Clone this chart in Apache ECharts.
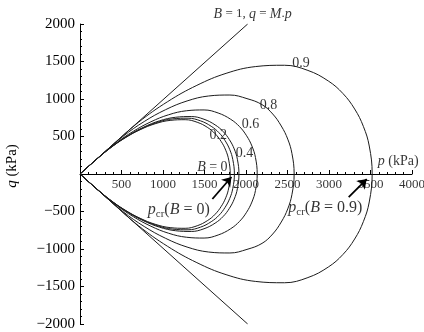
<!DOCTYPE html>
<html><head><meta charset="utf-8">
<script src="https://cdn.jsdelivr.net/npm/echarts/dist/echarts.min.js"></script>
<style>html,body{margin:0;padding:0;background:#fff}#c{width:424px;height:332px}</style>
</head><body><div id="c"></div>
<script>
// ---- data (upper half of each yield curve, [p, q] in kPa) ----
const bLabels = ['0', '0.2', '0.4', '0.6', '0.8', '0.9'];
const curveB00 = [[0,0],[181,179],[362,344],[543,481],[724,590],[905,670],[1086,715],[1267,724],[1412,690],[1539,619],[1629,536],[1701,433],[1756,317],[1792,186],[1810,0]];
const curveB02 = [[0,0],[186,184],[372,353],[558,495],[744,606],[930,688],[1116,735],[1302,744],[1451,709],[1581,636],[1674,551],[1748,445],[1804,326],[1841,192],[1860,0]];
const curveB04 = [[0,0],[192,190],[383,364],[575,509],[766,624],[958,709],[1149,756],[1341,766],[1494,730],[1628,655],[1724,567],[1800,458],[1858,335],[1896,197],[1915,0]];
const curveB06 = [[0,0],[214,211],[427,406],[641,568],[854,696],[1068,790],[1281,843],[1495,854],[1665,813],[1815,730],[1922,632],[2007,510],[2071,374],[2114,220],[2135,0]];
const curveB08 = [[0,0],[258,255],[516,500],[774,700],[1032,858],[1290,974],[1548,1040],[1806,1053],[2012,1005],[2193,925],[2322,800],[2425,640],[2503,465],[2554,271],[2580,0]];
const curveB09 = [[0,0],[352,348],[704,689],[1056,965],[1408,1182],[1760,1342],[2112,1432],[2464,1450],[2746,1381],[2992,1240],[3168,1073],[3309,867],[3414,635],[3485,373],[3520,0]];
const lineB1 = [[2020,2000],[0,0],[2020,-2000]];   // B = 1, q = M.p
const xTickValues = [500,1000,1500,2000,2500,3000,3500,4000];
const yTickValues = [-2000,-1500,-1000,-500,500,1000,1500,2000];

// annotations: text and anchor in data coordinates
const annTexts = ['{i|B} = 1, {i|q} = {i|M}.{i|p}', '0.9', '0.8', '0.6', '0.4', '0.2', '{i|B} = 0',
                  '{i|p} (kPa)', '{b|p}{s|cr}{m|(}{b|B}{m| = 0)}', '{b|p}{s|cr}{m|(}{b|B}{m| = 0.9)}'];
const annCoords = [[2080,2133],[2664,1480],[2271,920],[2054,667],[1981,280],[1667,520],[1595,93],
                   [3588,173],[1190,-480],[2955,-453]];
const arrowFrom = [[1595,-333],[3237,-307]];
const arrowTo   = [[1825,-40],[3455,-67]];

// ---- build chart ----
const FONT = 'Liberation Serif';
function closedLoop(upper){
  const lower = upper.slice(0, -1).reverse().map(d => [d[0], -d[1]]);
  return upper.concat(lower);
}
const curves = [curveB00, curveB02, curveB04, curveB06, curveB08, curveB09];
const series = curves.map((c, i) => ({
  type: 'line', name: 'B=' + bLabels[i], data: closedLoop(c), smooth: 0.4,
  showSymbol: false, symbol: 'none', silent: true, animation: false,
  lineStyle: {color: '#1c1c1c', width: 1}
}));
series.push({
  type: 'line', name: 'B=1', data: lineB1, smooth: false, showSymbol: false, symbol: 'none',
  silent: true, animation: false, lineStyle: {color: '#1c1c1c', width: 1}
});
const richStyles = {
  i: {fontStyle: 'italic', fontFamily: FONT, fontSize: 14, color: '#000'},
  b: {fontStyle: 'italic', fontFamily: FONT, fontSize: 16, color: '#000'},
  m: {fontFamily: FONT, fontSize: 16, color: '#000'},
  s: {fontFamily: FONT, fontSize: 11, color: '#000', padding: [8, 0, 0, 0]}
};
series.push({
  type: 'scatter', silent: true, animation: false, clip: false, symbolSize: 0,
  data: annCoords.map((c, i) => ({value: c, name: annTexts[i],
    label: {align: i === 7 ? 'left' : 'center', fontSize: i === 0 ? 13 : 14}})),
  label: {show: true, position: 'inside', formatter: p => p.name,
    fontFamily: FONT, fontSize: 14, color: '#000', rich: richStyles},
  markLine: {
    silent: true, animation: false, symbol: ['none', 'arrow'], symbolSize: 9,
    label: {show: false},
    lineStyle: {color: '#000', width: 1.8, type: 'solid'},
    data: arrowFrom.map((f, i) => [{coord: f}, {coord: arrowTo[i]}])
  }
});
// x tick labels placed under the q = 0 axis line
series.push({
  type: 'scatter', silent: true, animation: false, clip: false, symbolSize: 0,
  data: xTickValues.map(v => ({value: [v, 0], name: String(v)})),
  label: {show: true, position: 'bottom', distance: 4, formatter: p => p.name,
    fontFamily: FONT, fontSize: 13, color: '#000'}
});

const chart = echarts.init(document.getElementById('c'), null, {renderer: 'canvas'});
chart.setOption({
  animation: false,
  backgroundColor: '#fff',
  grid: {left: 80, right: 12, top: 24, bottom: 8, containLabel: false, outerBoundsMode: 'none'},
  xAxis: {
    type: 'value', min: 0, max: 4000, interval: 500,
    axisLine: {onZero: true, lineStyle: {color: '#000', width: 1}},
    axisTick: {show: true, inside: true, length: 4, lineStyle: {color: '#000'}},
    minorTick: {show: true, splitNumber: 5, length: 2, lineStyle: {color: '#000'}},
    splitLine: {show: false},
    axisLabel: {show: false}
  },
  yAxis: {
    type: 'value', min: -2000, max: 2000, interval: 500,
    name: '{i|q} (kPa)', nameLocation: 'middle', nameRotate: 90, nameGap: 60,
    nameTextStyle: {fontFamily: FONT, fontSize: 15, color: '#000', padding: [0, 0, 0, 16],
      rich: {i: {fontStyle: 'italic', fontFamily: FONT, fontSize: 15, color: '#000'}}},
    axisLine: {show: true, onZero: false, lineStyle: {color: '#000', width: 1}},
    axisTick: {show: true, inside: true, length: 4, lineStyle: {color: '#000'}},
    minorTick: {show: true, splitNumber: 5, length: 2, lineStyle: {color: '#000'}},
    splitLine: {show: false},
    axisLabel: {fontFamily: FONT, fontSize: 15, color: '#000', margin: 5,
      formatter: v => yTickValues.includes(v) ? (v < 0 ? '\u2212' + Math.abs(v) : String(v)) : ''}
  },
  series: series
});
</script></body></html>
